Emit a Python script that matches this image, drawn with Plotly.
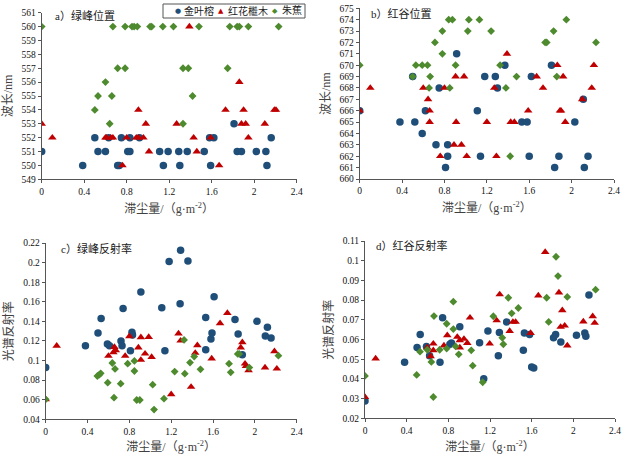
import plotly.graph_objects as go

# ---------------- data ----------------
# species: 金叶榕 (blue), 红花檵木 (red), 朱蕉 (green)
series_names = ["金叶榕", "红花檵木", "朱蕉"]

# a) 绿峰位置 (nm)
a_jyr_x = [0, 0.386, 0.50, 0.53, 0.60, 0.63, 0.715, 0.73, 0.75, 0.81, 0.83, 0.83, 0.92, 1.11, 1.145, 1.19, 1.29, 1.30, 1.37, 1.53, 1.58, 1.59, 1.62, 1.81, 1.84, 1.88, 2.02, 2.11, 2.12, 2.16]
a_jyr_y = [551, 550, 552, 551, 551, 552, 550, 550, 552, 551, 551, 552, 552, 551, 550, 551, 551, 550, 551, 551, 552, 550, 552, 553, 551, 551, 551, 551, 550, 552]
a_hh_x = [0, 0.10, 0.60, 0.61, 0.65, 0.67, 0.76, 0.80, 0.89, 0.91, 0.91, 0.957, 0.98, 1.01, 1.27, 1.39, 1.43, 1.46, 1.59, 1.67, 1.73, 1.86, 1.88, 1.90, 1.92, 1.945, 2.10, 2.19, 2.205]
a_hh_y = [553, 552, 552, 552, 552, 552, 550, 552, 552, 552, 554, 552, 553, 551, 553, 560, 552, 551, 552, 550, 554, 556, 553, 554, 553, 552, 553, 554, 554]
a_zj_x = [0, 0.50, 0.53, 0.60, 0.64, 0.66, 0.67, 0.715, 0.785, 0.785, 0.85, 0.87, 0.90, 1.02, 1.035, 1.14, 1.24, 1.33, 1.33, 1.38, 1.42, 1.48, 1.75, 1.77, 1.84, 1.86, 1.945, 2.23]
a_zj_y = [560, 554, 555, 556, 553, 555, 560, 557, 560, 557, 560, 560, 560, 560, 560, 560, 560, 557, 553, 557, 555, 560, 557, 560, 560, 560, 560, 560]

# b) 红谷位置 (nm)
b_jyr_x = [0, 0.38, 0.50, 0.52, 0.59, 0.62, 0.72, 0.75, 0.81, 0.83, 0.83, 0.915, 1.11, 1.14, 1.18, 1.28, 1.30, 1.37, 1.53, 1.58, 1.60, 1.62, 1.81, 1.84, 1.88, 2.03, 2.11, 2.12, 2.155]
b_jyr_y = [666, 665, 669, 665, 664, 666, 663, 668, 661, 663, 662, 671, 666, 662, 669, 669, 668, 670, 665, 665, 662, 669, 670, 661, 662, 665, 667, 661, 662]
b_hh_x = [0, 0.10, 0.60, 0.645, 0.66, 0.66, 0.76, 0.80, 0.89, 0.905, 0.91, 0.96, 0.985, 1.01, 1.20, 1.27, 1.29, 1.39, 1.425, 1.46, 1.59, 1.67, 1.73, 1.865, 1.89, 1.90, 1.92, 1.94, 2.10, 2.19, 2.21]
b_hh_y = [666, 668, 668, 667, 666, 665, 662, 668, 663, 669, 665, 663, 669, 662, 665, 668, 662, 671, 665, 665, 666, 669, 668, 670, 666, 666, 669, 665, 667, 668, 670]
b_zj_x = [0, 0.50, 0.53, 0.59, 0.64, 0.655, 0.665, 0.71, 0.78, 0.78, 0.84, 0.85, 0.875, 0.905, 1.02, 1.03, 1.13, 1.24, 1.325, 1.38, 1.42, 1.48, 1.75, 1.765, 1.83, 1.86, 1.95, 2.23]
b_zj_y = [670, 669, 670, 670, 670, 668, 669, 672, 673, 671, 674, 668, 674, 670, 673, 674, 674, 673, 670, 668, 662, 669, 672, 672, 673, 669, 674, 672]

# c) 绿峰反射率
c_jyr_x = [0, 0.38, 0.50, 0.53, 0.59, 0.61, 0.72, 0.73, 0.74, 0.81, 0.825, 0.83, 0.91, 1.11, 1.14, 1.18, 1.285, 1.29, 1.36, 1.53, 1.53, 1.58, 1.59, 1.61, 1.81, 1.84, 1.88, 2.02, 2.10, 2.12, 2.155]
c_jyr_y = [0.0928, 0.115, 0.128, 0.143, 0.117, 0.115, 0.120, 0.115, 0.153, 0.110, 0.129, 0.126, 0.170, 0.154, 0.110, 0.201, 0.158, 0.2125, 0.2016, 0.111, 0.144, 0.122, 0.128, 0.165, 0.142, 0.127, 0.106, 0.140, 0.125, 0.134, 0.123]
c_hh_x = [0, 0.105, 0.60, 0.647, 0.657, 0.67, 0.76, 0.80, 0.886, 0.91, 0.91, 0.95, 0.985, 1.013, 1.20, 1.27, 1.29, 1.39, 1.43, 1.45, 1.587, 1.667, 1.737, 1.865, 1.88, 1.906, 1.915, 1.94, 2.097, 2.187, 2.21]
c_hh_y = [0.0604, 0.115, 0.1047, 0.1084, 0.1138, 0.1104, 0.1047, 0.1247, 0.1132, 0.1006, 0.1237, 0.107, 0.124, 0.1036, 0.0655, 0.1275, 0.1203, 0.073, 0.1077, 0.1155, 0.102, 0.138, 0.1485, 0.1132, 0.1186, 0.0968, 0.0944, 0.090, 0.0928, 0.1094, 0.0917]
c_zj_x = [0, 0.494, 0.513, 0.526, 0.593, 0.637, 0.653, 0.663, 0.717, 0.784, 0.848, 0.848, 0.87, 0.90, 1.023, 1.036, 1.131, 1.233, 1.323, 1.33, 1.38, 1.42, 1.48, 1.753, 1.769, 1.836, 1.85, 1.947, 2.225]
c_zj_y = [0.0604, 0.0842, 0.0856, 0.0869, 0.0774, 0.0975, 0.0621, 0.0914, 0.0764, 0.0968, 0.0893, 0.0996, 0.0597, 0.0597, 0.0754, 0.0499, 0.0611, 0.0887, 0.121, 0.0866, 0.0979, 0.104, 0.091, 0.0968, 0.088, 0.1067, 0.1067, 0.0928, 0.105]

# d) 红谷反射率
d_jyr_x = [0, 0.38, 0.50, 0.53, 0.59, 0.62, 0.72, 0.745, 0.815, 0.83, 0.91, 1.10, 1.14, 1.18, 1.28, 1.29, 1.36, 1.52, 1.53, 1.58, 1.60, 1.62, 1.81, 1.83, 1.88, 2.03, 2.11, 2.12, 2.15]
d_jyr_y = [0.0288, 0.0484, 0.0559, 0.0626, 0.0565, 0.0518, 0.0484, 0.0711, 0.0576, 0.0582, 0.0665, 0.0584, 0.0401, 0.0643, 0.0518, 0.0636, 0.0689, 0.0545, 0.0633, 0.0626, 0.0461, 0.0455, 0.0609, 0.0626, 0.0587, 0.0621, 0.0633, 0.0616, 0.0826]
d_hh_x = [0, 0.102, 0.598, 0.63, 0.656, 0.656, 0.758, 0.79, 0.886, 0.91, 0.91, 0.95, 0.982, 1.008, 1.197, 1.264, 1.293, 1.389, 1.42, 1.446, 1.59, 1.664, 1.73, 1.862, 1.878, 1.894, 1.917, 1.942, 2.096, 2.186, 2.205]
d_hh_y = [0.0308, 0.0503, 0.0559, 0.0515, 0.0579, 0.0545, 0.0569, 0.0621, 0.0613, 0.0596, 0.0559, 0.0603, 0.0582, 0.0711, 0.0579, 0.0697, 0.0829, 0.0643, 0.0689, 0.0689, 0.0633, 0.0823, 0.1044, 0.0838, 0.0664, 0.0748, 0.067, 0.0569, 0.0691, 0.0718, 0.0684]
d_zj_x = [0, 0.496, 0.528, 0.598, 0.637, 0.656, 0.662, 0.717, 0.784, 0.784, 0.848, 0.848, 0.87, 0.90, 1.02, 1.034, 1.13, 1.232, 1.318, 1.328, 1.376, 1.408, 1.472, 1.744, 1.763, 1.834, 1.853, 1.942, 2.214]
d_zj_y = [0.0415, 0.042, 0.0538, 0.0548, 0.0486, 0.0308, 0.0719, 0.0548, 0.068, 0.0554, 0.0792, 0.0653, 0.0565, 0.0525, 0.0545, 0.0467, 0.0383, 0.0718, 0.0609, 0.0576, 0.0812, 0.0733, 0.076, 0.0812, 0.0689, 0.102, 0.0922, 0.0816, 0.0853]

panel_titles = ["a）绿峰位置", "b）红谷位置", "c）绿峰反射率", "d）红谷反射率"]
y_titles = ["波长/nm", "波长/nm", "光谱反射率", "光谱反射率"]
x_title = "滞尘量/（g·m<sup>-2</sup>）"

# ---------------- style ----------------
colors = ["#1F4E79", "#C00000", "#4E8A2E"]
symbols = ["circle", "triangle-up", "diamond"]
legend_glyphs = ["●", "▲", "◆"]
sizes = [7.5, 7.5, 6]
FONT = "Liberation Serif, Noto Sans CJK SC, serif"

panels = [
    dict(data=[(a_jyr_x, a_jyr_y), (a_hh_x, a_hh_y), (a_zj_x, a_zj_y)],
         xd=[41.7, 296.7], yd=[12.7, 179.3], yr=[549, 561], ydt=1, tpos=(53, 15)),
    dict(data=[(b_jyr_x, b_jyr_y), (b_hh_x, b_hh_y), (b_zj_x, b_zj_y)],
         xd=[359.7, 614.0], yd=[8.3, 179.0], yr=[660, 675], ydt=1, tpos=(369, 13)),
    dict(data=[(c_jyr_x, c_jyr_y), (c_hh_x, c_hh_y), (c_zj_x, c_zj_y)],
         xd=[45.7, 296.7], yd=[243.0, 419.3], yr=[0.04, 0.22], ydt=0.02, tpos=(59, 248)),
    dict(data=[(d_jyr_x, d_jyr_y), (d_hh_x, d_hh_y), (d_zj_x, d_zj_y)],
         xd=[365.0, 615.0], yd=[241.0, 418.3], yr=[0.02, 0.11], ydt=0.01, tpos=(374, 245)),
]

W, H = 628, 454
fig = go.Figure()
layout = dict(
    width=W, height=H,
    margin=dict(l=0, r=0, t=0, b=0),
    paper_bgcolor="white", plot_bgcolor="white",
    font=dict(family=FONT, size=10, color="#000000"),
    showlegend=False,
    annotations=[],
    shapes=[],
)

for i, p in enumerate(panels):
    k = "" if i == 0 else str(i + 1)
    xa, ya = "x" + k, "y" + k
    for j, (xs, ys) in enumerate(p["data"]):
        fig.add_trace(go.Scatter(
            x=xs, y=ys, mode="markers", name=series_names[j],
            xaxis=xa, yaxis=ya,
            marker=dict(color=colors[j], symbol=symbols[j], size=sizes[j], line=dict(width=0)),
        ))
    x0, x1 = p["xd"]
    y0, y1 = p["yd"]
    layout["xaxis" + k] = dict(
        domain=[x0 / W, x1 / W], anchor=ya, range=[0, 2.4], dtick=0.4, tick0=0,
        automargin=False,
        showgrid=False, zeroline=False, showline=True, linecolor="#555555", linewidth=1,
        ticks="outside", ticklen=3, tickcolor="#555555",
        tickfont=dict(size=9.5, family=FONT, color="#111111"),
        title=dict(text=x_title, font=dict(size=12, family=FONT, color="#404040"), standoff=8),
    )
    layout["yaxis" + k] = dict(
        domain=[1 - y1 / H, 1 - y0 / H], anchor=xa, range=p["yr"], dtick=p["ydt"], tick0=p["yr"][0],
        automargin=False,
        showgrid=False, zeroline=False, showline=True, linecolor="#555555", linewidth=1,
        ticks="outside", ticklen=3, tickcolor="#555555",
        tickfont=dict(size=9.5, family=FONT, color="#111111"),
        title=dict(text=y_titles[i], font=dict(size=12, family=FONT, color="#404040"), standoff=6),
    )
    tx, ty = p["tpos"]
    layout["annotations"].append(dict(
        text=panel_titles[i], xref="paper", yref="paper",
        x=tx / W, y=1 - ty / H, xanchor="left", yanchor="middle",
        showarrow=False, font=dict(size=11, family=FONT, color="#222222"),
    ))

# legend box (drawn manually to match the compact boxed legend of the reference)
leg_box = (163, 4, 305, 18)
layout["shapes"].append(dict(
    type="rect", xref="paper", yref="paper",
    x0=leg_box[0] / W, x1=leg_box[2] / W, y0=1 - leg_box[3] / H, y1=1 - leg_box[1] / H,
    line=dict(color="#555555", width=1), fillcolor="white", layer="above",
))
glyph_x = [177.5, 221, 275]
label_x = [182, 225.5, 279.5]
leg_yc = 1 - 11 / H
for j in range(3):
    layout["annotations"].append(dict(
        text=legend_glyphs[j], xref="paper", yref="paper", x=glyph_x[j] / W, y=leg_yc,
        xanchor="center", yanchor="middle", showarrow=False,
        font=dict(size=7, family="DejaVu Sans", color=colors[j]),
    ))
    layout["annotations"].append(dict(
        text=series_names[j], xref="paper", yref="paper", x=label_x[j] / W, y=leg_yc,
        xanchor="left", yanchor="middle", showarrow=False,
        font=dict(size=10, family=FONT, color="#222222"),
    ))

fig.update_layout(**layout)
fig.write_html(
    "out.html",
    config={"displayModeBar": False},
    post_script="document.body.style.margin='0';document.body.style.padding='0';"
                "document.documentElement.style.overflow='hidden';",
)
